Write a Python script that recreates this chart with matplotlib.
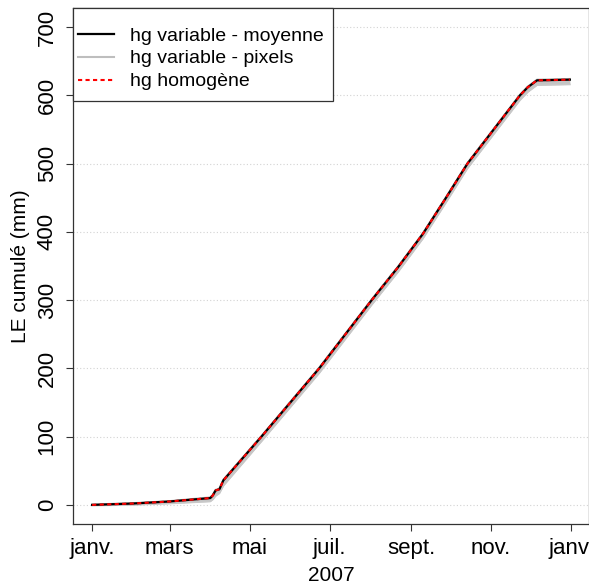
import numpy as np
import pandas as pd
import matplotlib
matplotlib.use('Agg')
import matplotlib.pyplot as plt
import matplotlib.dates as mdates
from matplotlib.patches import Rectangle

# cumulated LE (mm)
dates = ['2007-01-01', '2007-02-01', '2007-03-01', '2007-04-01', '2007-04-03',
         '2007-04-05', '2007-04-08', '2007-04-11', '2007-05-10', '2007-06-01',
         '2007-06-23', '2007-07-13', '2007-08-02', '2007-08-22', '2007-09-10',
         '2007-09-27', '2007-10-14', '2007-11-03', '2007-11-23', '2007-11-29',
         '2007-12-06', '2007-12-31']
moyenne = [0, 2, 5, 10, 14, 21, 23, 36, 100, 150, 200, 250, 300, 348, 397,
           448, 500, 550, 600, 612, 622, 623]
homogene = [0, 2, 5, 10, 14, 21, 23, 36, 100, 150, 200, 250, 300, 348, 397,
            448, 500, 550, 600, 612, 622, 623]
pixels_min = [-1, 0, 2, 5, 8, 13, 17, 28, 93, 143, 193, 243, 293, 341, 390,
              441, 493, 543, 593, 605, 615, 616]
pixels_max = [0.5, 2.5, 5.5, 11, 15, 22, 24, 37, 101, 151, 201, 251, 301, 349,
              398, 449, 501, 551, 601, 613, 623, 624]

tick_dates = ['2007-01-01', '2007-03-01', '2007-05-01', '2007-07-01',
              '2007-09-01', '2007-11-01', '2008-01-01']
tick_labels = ['janv.', 'mars', 'mai', 'juil.', 'sept.', 'nov.', 'janv.']
y_ticks = [0, 100, 200, 300, 400, 500, 600, 700]

plt.rcParams['font.family'] = ['Liberation Sans', 'DejaVu Sans']
plt.rcParams['font.size'] = 14

x = mdates.date2num(pd.to_datetime(dates))
xt = mdates.date2num(pd.to_datetime(tick_dates))

W, H = 589, 587
fig = plt.figure(figsize=(W / 100, H / 100), dpi=100)
ax = fig.add_axes([73 / W, 1 - 524 / H, 516 / W, 516 / H])

for yv in y_ticks:
	ax.axhline(yv, color='#d3d3d3', lw=0.8, ls=(0, (1, 2)), zorder=0)

ax.fill_between(x, pixels_min, pixels_max, color='#c4c4c4', lw=0, zorder=1)
ax.plot(x, pixels_min, color='#c8c8c8', lw=1.2, zorder=1)
ax.plot(x, pixels_max, color='#bebebe', lw=1.5, zorder=1, label='hg variable - pixels')
ax.plot(x, moyenne, color='black', lw=1.6, zorder=2, label='hg variable - moyenne')
ax.plot(x, homogene, color='red', lw=1.5, ls=(0, (2, 1.6)), zorder=3, label='hg homogène')

ax.set_xlim(x[0] - 14.6, x[-1] + 14.6)
ax.set_ylim(-28, 728)
ax.set_xticks(xt)
ax.set_xticklabels(tick_labels)
ax.set_yticks(y_ticks)
ax.tick_params(axis='both', length=5, width=0.8, color='#333333', pad=5, labelsize=16)
ax.tick_params(axis='y', labelrotation=90, pad=6)
for lab in ax.get_yticklabels():
	lab.set_va('center')

for sp in ax.spines.values():
	sp.set_color('#333333')
	sp.set_linewidth(0.9)

ax.set_xlabel('2007', labelpad=5, fontsize=15)
ax.set_ylabel('LE cumulé (mm)', labelpad=5, fontsize=15)

# legend box drawn by hand (R style: taller padding than matplotlib's)
box = Rectangle((73 / W, 1 - 101 / H), 260 / W, 93 / H, transform=fig.transFigure,
                facecolor='white', edgecolor='#333333', lw=0.9, zorder=4, clip_on=False)
ax.add_patch(box)

handles, labels = ax.get_legend_handles_labels()
order = [labels.index('hg variable - moyenne'), labels.index('hg variable - pixels'),
         labels.index('hg homogène')]
leg = ax.legend([handles[i] for i in order], [labels[i] for i in order],
                loc='upper left', bbox_to_anchor=(78 / W, 1 - 27 / H),
                bbox_transform=fig.transFigure, frameon=False, borderpad=0,
                borderaxespad=0, handlelength=1.85, handletextpad=0.8,
                labelspacing=0.27)
leg.set_zorder(5)

plt.savefig('out.png', dpi=100)
